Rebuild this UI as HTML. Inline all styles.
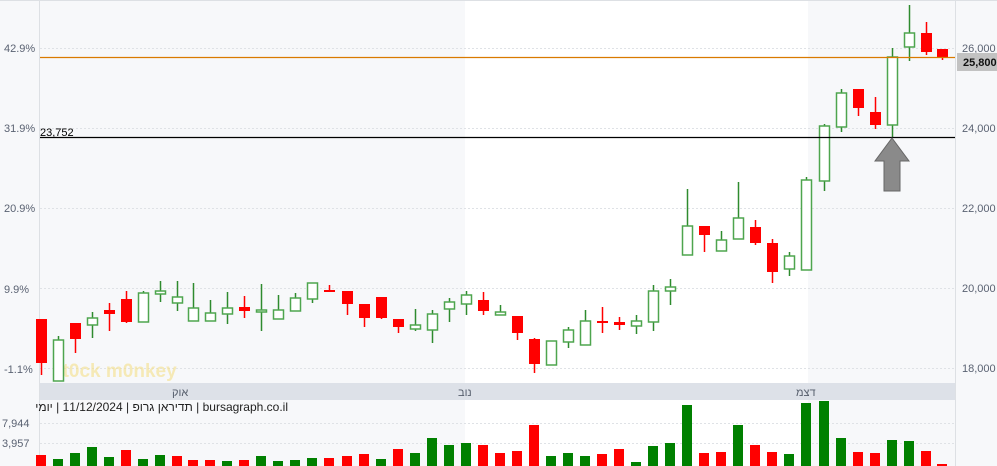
<!DOCTYPE html>
<html><head><meta charset="utf-8"><style>
html,body{margin:0;padding:0;background:#fff;}
svg{display:block;font-family:"Liberation Sans",sans-serif;}
</style></head><body>
<svg id="s" width="997" height="466" xmlns="http://www.w3.org/2000/svg">
<rect x="0" y="0" width="997" height="466" fill="#f7f8fa"/>
<rect x="465" y="0" width="343" height="466" fill="#ffffff"/>
<rect x="955" y="0" width="42" height="466" fill="#f7f8fa"/>
<line x1="0" y1="0.5" x2="997" y2="0.5" stroke="#dde0e4"/>
<line x1="39.5" y1="0" x2="39.5" y2="466" stroke="#dde0e4"/>
<line x1="955.5" y1="0" x2="955.5" y2="466" stroke="#dde0e4"/>
<g stroke="#dfe2e6" stroke-dasharray="2,2">
<line x1="40" y1="48.5" x2="955" y2="48.5"/><line x1="40" y1="128.5" x2="955" y2="128.5"/>
<line x1="40" y1="208.5" x2="955" y2="208.5"/><line x1="40" y1="288.5" x2="955" y2="288.5"/>
<line x1="40" y1="368.5" x2="955" y2="368.5"/>
<line x1="40" y1="423.5" x2="955" y2="423.5"/><line x1="40" y1="443.5" x2="955" y2="443.5"/>
</g>
<g fill="#5a6272" font-size="11">
<text x="4" y="52">42.9%</text><text x="4" y="132">31.9%</text><text x="4" y="212">20.9%</text>
<text x="4" y="293">9.9%</text><text x="4" y="373">-1.1%</text>
<text x="2" y="427">7,944</text><text x="2" y="447">3,957</text>
<text x="962" y="52">26,000</text><text x="962" y="132">24,000</text><text x="962" y="212">22,000</text>
<text x="962" y="292">20,000</text><text x="962" y="372">18,000</text>
</g>
<text x="52" y="377" font-size="19" font-weight="bold" fill="#f5e08a" opacity="0.6">st0ck m0nkey</text>
<g id="c"></g>
<rect x="40" y="383" width="915" height="17" fill="#dde1e8"/>
<g fill="#555d6b" font-size="11"><text x="172" y="396">אוק</text><text x="458" y="396">נוב</text><text x="796" y="396">דצמ</text></g>
<text x="288" y="411" font-size="12" fill="#222" direction="rtl" text-anchor="start">bursagraph.co.il | תדיראן גרופ | 11/12/2024 | יומי</text>
<line x1="40" y1="57.5" x2="955" y2="57.5" stroke="#d97a00" stroke-width="1.2"/>
<line x1="40" y1="137.5" x2="955" y2="137.5" stroke="#000" stroke-width="1.2"/>
<text x="40" y="136" font-size="11" fill="#000">23,752</text>
<rect x="957" y="53" width="40" height="18" fill="#c2c2c2"/>
<text x="963" y="66" font-size="11" font-weight="bold" fill="#111">25,800</text>
<polygon points="892,138 909,161 900,161 900,191 884,191 884,161 875,161" fill="#8a8a8a" stroke="#666" stroke-width="1"/>
</svg>
<script>
var C=[[41,'r',319,319,363,375],[58,'g',336,340,381,381],[75,'r',323,323,339,353],[92,'g',312,318,325,338],[109,'r',303,310,314,331],[126,'r',291,299,322,323],[143,'g',291,293,322,322],[160,'g',281,291,294,302],[177,'g',281,297,303,311],[193,'g',283,308,321,321],[210,'g',300,313,321,321],[227,'g',292,308,314,324],[244,'r',296,307,311,318],[261,'g',284,310,312,331],[278,'g',295,310,319,319],[295,'g',293,298,311,311],[312,'g',283,283,299,303],[329,'r',285,290,292,292],[347,'r',291,291,304,315],[364,'r',304,304,318,327],[381,'r',297,297,318,319],[398,'r',319,319,327,333],[415,'g',309,325,329,331],[432,'g',310,314,330,343],[449,'g',298,302,309,322],[466,'g',291,295,304,315],[483,'r',292,300,311,315],[500,'g',305,312,315,315],[517,'r',316,316,333,340],[534,'r',338,339,364,373],[551,'g',341,341,365,365],[568,'g',327,330,342,348],[585,'g',310,321,345,345],[602,'r',307,321,323,333],[619,'r',317,322,325,330],[636,'g',315,321,326,334],[653,'g',285,291,322,331],[670,'g',279,287,291,305],[687,'g',189,226,255,255],[704,'r',226,226,235,252],[721,'g',231,240,251,251],[738,'g',182,218,239,239],[755,'r',220,227,243,245],[772,'r',239,243,272,283],[789,'g',252,256,269,276],[806,'g',177,180,270,270],[824,'g',124,126,181,191],[841,'g',89,93,127,132],[858,'r',89,89,108,116],[875,'r',97,112,125,129],[892,'g',48,57,125,137],[909,'g',5,33,47,61],[926,'r',22,33,52,55],[942,'r',49,49,57,60]];
var V=[['r',455],['g',459],['g',453],['g',447],['g',457],['r',450],['g',459],['g',455],['r',456],['r',460],['r',460],['g',461],['r',460],['g',456],['g',461],['g',460],['g',458],['r',458],['r',456],['r',454],['g',459],['r',449],['g',453],['g',438],['g',445],['g',443],['r',445],['r',453],['r',451],['r',425],['g',456],['g',453],['g',456],['r',454],['r',449],['g',462],['g',446],['g',443],['g',405],['r',453],['r',452],['g',425],['r',445],['r',452],['g',454],['g',403],['g',401],['g',438],['r',452],['r',453],['g',440],['g',441],['r',451],['r',464]];
var h='';
C.forEach(function(c,i){var x=c[0];var col=c[1]=='r'?'#ff0000':'#2e8b2e';
h+='<line x1="'+(x+.5)+'" y1="'+c[2]+'" x2="'+(x+.5)+'" y2="'+c[5]+'" stroke="'+col+'" stroke-width="1.5"/>';
if(c[1]=='r')h+='<rect x="'+(x-5)+'" y="'+c[3]+'" width="11" height="'+Math.max(2,c[4]-c[3])+'" fill="#ff0000"/>';
else h+='<rect x="'+(x-4.5)+'" y="'+c[3]+'" width="10" height="'+Math.max(2,c[4]-c[3])+'" fill="#fff" stroke="#4ea54e" stroke-width="1.5"/>';
var v=V[i];h+='<rect x="'+(x-5)+'" y="'+v[1]+'" width="10" height="'+(466-v[1])+'" fill="'+(v[0]=='r'?'#ff0000':'#008000')+'"/>';});
document.getElementById('c').innerHTML=h;
</script>
</body></html>
